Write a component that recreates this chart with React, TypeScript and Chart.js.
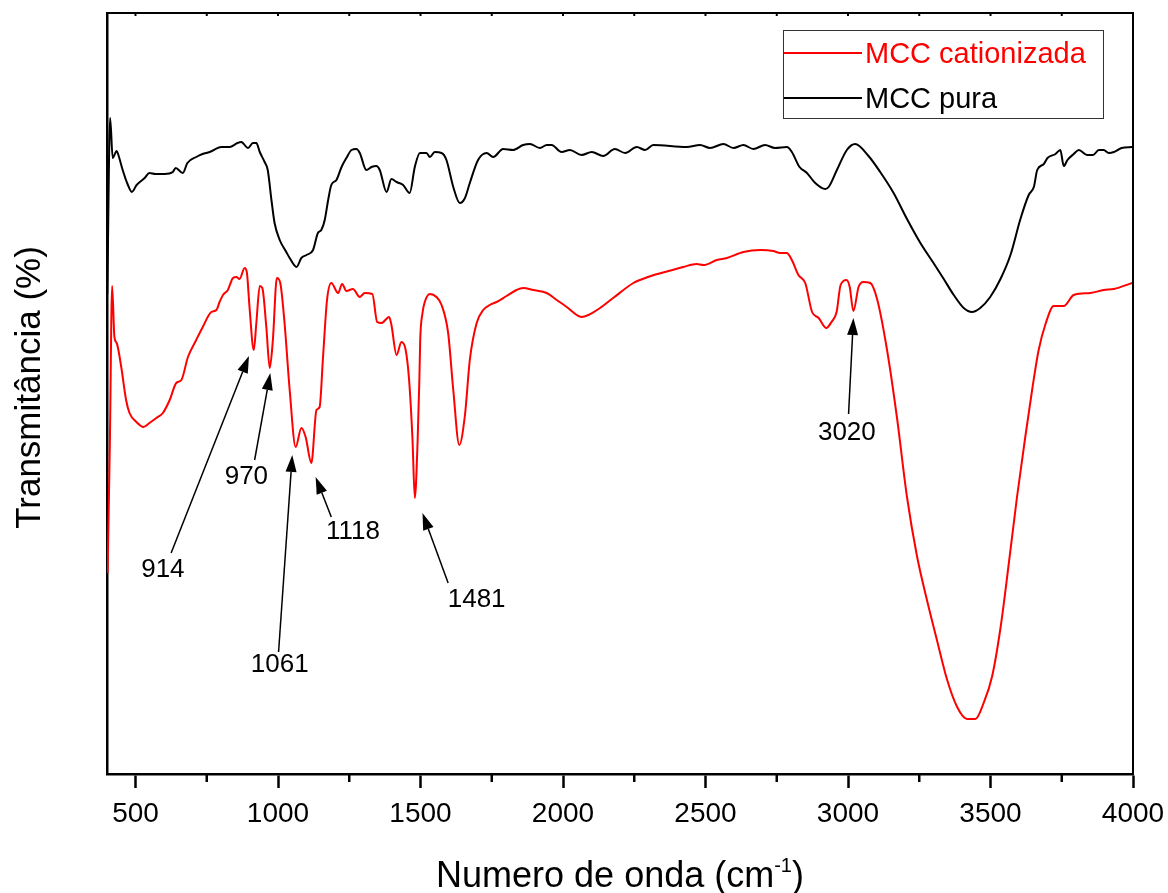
import { useEffect, useRef } from 'react';
import { Chart, registerables } from 'chart.js';

Chart.register(...registerables);

const FONT = "'Liberation Sans', Arial, Helvetica, sans-serif";

// MCC pura (black) — wavenumber (cm-1) and transmittance (arbitrary units)
const wnPura = [401, 411, 420, 434, 440, 455, 472, 487, 504, 532, 549, 570, 602, 631, 641, 666, 682, 713, 735, 760, 801, 830, 858, 871, 895, 912, 924, 936, 953, 964, 977, 988, 1006, 1029, 1041, 1065, 1082, 1100, 1123, 1140, 1152, 1164, 1176, 1187, 1205, 1223, 1240, 1258, 1275, 1287, 1310, 1328, 1345, 1357, 1381, 1398, 1416, 1439, 1462, 1480, 1498, 1521, 1533, 1550, 1574, 1591, 1615, 1638, 1656, 1673, 1702, 1732, 1755, 1790, 1825, 1860, 1884, 1919, 1943, 1960, 1995, 2024, 2065, 2101, 2141, 2182, 2218, 2259, 2288, 2317, 2434, 2481, 2516, 2563, 2598, 2633, 2668, 2709, 2744, 2786, 2803, 2830, 2856, 2885, 2920, 2932, 2961, 2996, 3025, 3072, 3113, 3160, 3207, 3254, 3300, 3336, 3371, 3406, 3435, 3464, 3499, 3535, 3570, 3605, 3634, 3652, 3664, 3687, 3700, 3728, 3745, 3757, 3770, 3792, 3810, 3839, 3860, 3880, 3897, 3915, 3933, 3960, 3997];
const tPura = [480, 656, 616, 623, 619, 604, 590, 582, 589, 596, 601, 600, 600, 602, 606, 601, 611, 617, 620, 622, 627, 627, 631, 632, 626, 631, 631, 622, 612, 604, 574, 551, 534, 522, 516, 507, 516, 519, 524, 541, 544, 554, 574, 589, 594, 607, 616, 624, 625, 621, 604, 607, 608, 604, 582, 595, 592, 589, 581, 607, 621, 621, 617, 622, 621, 614, 587, 571, 576, 591, 614, 621, 617, 625, 624, 629, 630, 626, 629, 629, 622, 624, 619, 622, 618, 625, 621, 627, 624, 629, 627, 629, 626, 630, 626, 629, 625, 629, 626, 627, 622, 607, 601, 591, 585, 587, 604, 624, 630, 618, 602, 581, 555, 531, 511, 495, 479, 466, 462, 466, 477, 495, 519, 555, 579, 587, 604, 610, 616, 620, 624, 608, 614, 620, 624, 619, 619, 624, 624, 621, 622, 626, 627];

// MCC cationizada (red)
const wnCat = [402, 410, 418, 426, 434, 450, 467, 479, 503, 528, 549, 573, 596, 620, 643, 661, 684, 713, 736, 766, 784, 795, 807, 824, 842, 854, 865, 883, 891, 900, 915, 924, 936, 945, 959, 971, 982, 996, 1008, 1023, 1041, 1062, 1082, 1097, 1117, 1135, 1146, 1158, 1172, 1187, 1211, 1225, 1240, 1263, 1287, 1304, 1331, 1348, 1363, 1390, 1398, 1416, 1433, 1448, 1460, 1472, 1480, 1490, 1496, 1499, 1507, 1515, 1533, 1556, 1574, 1597, 1615, 1636, 1656, 1673, 1697, 1720, 1743, 1767, 1802, 1837, 1860, 1896, 1943, 1978, 2013, 2048, 2065, 2089, 2130, 2176, 2247, 2298, 2358, 2422, 2469, 2493, 2540, 2575, 2633, 2692, 2738, 2762, 2785, 2803, 2826, 2850, 2874, 2897, 2924, 2942, 2960, 2974, 2995, 3006, 3019, 3037, 3054, 3078, 3102, 3137, 3172, 3207, 3242, 3277, 3312, 3347, 3383, 3418, 3447, 3476, 3506, 3535, 3564, 3593, 3622, 3646, 3669, 3693, 3722, 3757, 3792, 3851, 3897, 3933, 3997];
const tCat = [201, 330, 488, 437, 431, 407, 374, 361, 352, 347, 351, 356, 361, 374, 391, 394, 417, 434, 447, 462, 464, 472, 479, 484, 496, 497, 495, 506, 501, 467, 424, 451, 488, 486, 447, 406, 434, 496, 491, 451, 384, 327, 346, 337, 311, 364, 367, 417, 474, 491, 481, 490, 483, 485, 477, 481, 480, 452, 451, 457, 449, 419, 432, 424, 394, 334, 276, 334, 394, 434, 461, 472, 480, 477, 469, 441, 384, 329, 359, 414, 451, 464, 469, 472, 478, 484, 486, 484, 481, 474, 467, 459, 457, 459, 466, 476, 491, 497, 502, 507, 510, 509, 514, 516, 522, 524, 523, 521, 521, 514, 499, 491, 462, 456, 446, 452, 462, 489, 494, 487, 463, 487, 492, 491, 475, 424, 356, 277, 218, 174, 134, 95, 67, 55, 55, 71, 98, 146, 210, 277, 337, 384, 424, 450, 468, 468, 479, 481, 484, 485, 491];

// Axis ticks
const xMajorTicks = [500, 1000, 1500, 2000, 2500, 3000, 3500, 4000];
const xMinorTicks = [750, 1250, 1750, 2250, 2750, 3250, 3750];

// Peak annotations (data coordinates)
const peakLabels = ['914', '970', '1061', '1118', '1481', '3020'];
const labelX = [596, 889, 1006, 1263, 1697, 2996];
const labelY = [204, 297, 109, 242, 174, 341];
const arrowFromX = [625, 918, 1002, 1187, 1597, 3002];
const arrowFromY = [221, 314, 122, 257, 191, 360];
const arrowToX = [898, 973, 1050, 1132, 1507, 3019];
const arrowToY = [418, 401, 319, 297, 261, 456];

const seriesNames = ['MCC cationizada', 'MCC pura'];
const seriesColors = ['#ff0000', '#000000'];

export default function App() {
  const ref = useRef<HTMLCanvasElement>(null);

  useEffect(() => {
    document.body.style.margin = '0';
    const canvas = ref.current;
    if (!canvas) return;

    const overlay = {
      id: 'overlay',
      afterDraw(chart: any) {
        const { ctx, chartArea } = chart;
        const { left, right, top, bottom } = chartArea;
        const xs = chart.scales.x;
        const ys = chart.scales.y;
        ctx.save();

        // frame top / right
        ctx.strokeStyle = '#000';
        ctx.lineWidth = 2;
        ctx.beginPath();
        ctx.moveTo(left, top);
        ctx.lineTo(right, top);
        ctx.lineTo(right, bottom);
        ctx.stroke();

        // top inward ticks and bottom minor ticks
        ctx.beginPath();
        for (const v of [...xMajorTicks, ...xMinorTicks]) {
          if (v >= 4000) continue;
          const px = xs.getPixelForValue(v);
          ctx.moveTo(px, top);
          ctx.lineTo(px, top + 3);
        }
        ctx.stroke();
        ctx.lineWidth = 2.5;
        ctx.beginPath();
        for (const v of xMinorTicks) {
          const px = xs.getPixelForValue(v);
          ctx.moveTo(px, bottom);
          ctx.lineTo(px, bottom + 8);
        }
        ctx.stroke();

        // annotations
        ctx.fillStyle = '#000';
        ctx.strokeStyle = '#000';
        ctx.lineWidth = 1.5;
        ctx.font = `26px ${FONT}`;
        ctx.textAlign = 'center';
        ctx.textBaseline = 'middle';
        for (let i = 0; i < peakLabels.length; i++) {
          const x1 = xs.getPixelForValue(arrowFromX[i]);
          const y1 = ys.getPixelForValue(arrowFromY[i]);
          const x2 = xs.getPixelForValue(arrowToX[i]);
          const y2 = ys.getPixelForValue(arrowToY[i]);
          const ang = Math.atan2(y2 - y1, x2 - x1);
          const headLen = 17;
          const headHalf = 5.5;
          const bx = x2 - headLen * Math.cos(ang);
          const by = y2 - headLen * Math.sin(ang);
          ctx.beginPath();
          ctx.moveTo(x1, y1);
          ctx.lineTo(bx, by);
          ctx.stroke();
          ctx.beginPath();
          ctx.moveTo(x2, y2);
          ctx.lineTo(bx + headHalf * Math.sin(ang), by - headHalf * Math.cos(ang));
          ctx.lineTo(bx - headHalf * Math.sin(ang), by + headHalf * Math.cos(ang));
          ctx.closePath();
          ctx.fill();
          ctx.fillText(peakLabels[i], xs.getPixelForValue(labelX[i]), ys.getPixelForValue(labelY[i]));
        }

        // legend
        const lx = right - 350;
        const ly = top + 17;
        ctx.strokeStyle = '#333';
        ctx.lineWidth = 1;
        ctx.strokeRect(lx + 0.5, ly + 0.5, 320, 88);
        ctx.textAlign = 'left';
        ctx.font = `29px ${FONT}`;
        const rowsY = [ly + 23, ly + 68];
        for (let i = 0; i < seriesNames.length; i++) {
          ctx.strokeStyle = seriesColors[i];
          ctx.lineWidth = 2;
          ctx.beginPath();
          ctx.moveTo(lx + 1, rowsY[i]);
          ctx.lineTo(lx + 79, rowsY[i]);
          ctx.stroke();
          ctx.fillStyle = seriesColors[i];
          ctx.fillText(seriesNames[i], lx + 82, rowsY[i] + 2);
        }

        // x title with superscript
        ctx.fillStyle = '#000';
        ctx.textBaseline = 'alphabetic';
        const mainTxt = 'Numero de onda (cm';
        const supTxt = '-1';
        const tailTxt = ')';
        ctx.font = `36px ${FONT}`;
        const w1 = ctx.measureText(mainTxt).width;
        const w3 = ctx.measureText(tailTxt).width;
        ctx.font = `20px ${FONT}`;
        const w2 = ctx.measureText(supTxt).width;
        const total = w1 + w2 + w3;
        let tx = (left + right) / 2 - total / 2;
        const base = bottom + 113;
        ctx.textAlign = 'left';
        ctx.font = `36px ${FONT}`;
        ctx.fillText(mainTxt, tx, base);
        tx += w1;
        ctx.font = `20px ${FONT}`;
        ctx.fillText(supTxt, tx, base - 15);
        tx += w2;
        ctx.font = `36px ${FONT}`;
        ctx.fillText(tailTxt, tx, base);

        // y title
        ctx.save();
        ctx.translate(40, (top + bottom) / 2 - 6);
        ctx.rotate(-Math.PI / 2);
        ctx.textAlign = 'center';
        ctx.font = `35px ${FONT}`;
        ctx.fillText('Transmitância (%)', 0, 0);
        ctx.restore();

        ctx.restore();
      },
    };

    const chart = new Chart(canvas, {
      type: 'line',
      data: {
        datasets: [
          {
            label: seriesNames[0],
            data: wnCat.map((x, i) => ({ x, y: tCat[i] })),
            borderColor: seriesColors[0],
            borderWidth: 2,
            pointRadius: 0,
            cubicInterpolationMode: 'monotone',
            fill: false,
          },
          {
            label: seriesNames[1],
            data: wnPura.map((x, i) => ({ x, y: tPura[i] })),
            borderColor: seriesColors[1],
            borderWidth: 2,
            pointRadius: 0,
            cubicInterpolationMode: 'monotone',
            fill: false,
          },
        ],
      },
      options: {
        animation: false,
        responsive: true,
        maintainAspectRatio: false,
        layout: { padding: { top: 13, right: 35, left: 0, bottom: 0 } },
        plugins: { legend: { display: false }, tooltip: { enabled: false } },
        scales: {
          x: {
            type: 'linear',
            min: 400,
            max: 4000,
            afterBuildTicks: (s: any) => {
              s.ticks = xMajorTicks.map((v) => ({ value: v }));
            },
            afterFit: (s: any) => {
              s.height = 119;
              s.paddingLeft = 0;
              s.paddingRight = 0;
            },
            ticks: {
              autoSkip: false,
              maxRotation: 0,
              color: '#000',
              font: { family: FONT, size: 28 },
              padding: 9,
              callback: (v: any) => String(v),
            },
            grid: {
              drawOnChartArea: false,
              drawTicks: true,
              tickLength: 14,
              tickWidth: 2.5,
              tickColor: '#000',
            },
            border: { display: true, color: '#000', width: 2.5 },
          },
          y: {
            type: 'linear',
            min: 0,
            max: 761,
            ticks: { display: false },
            grid: { drawOnChartArea: false, drawTicks: false },
            border: { display: true, color: '#000', width: 2.5 },
            afterFit: (s: any) => {
              s.width = 107;
            },
          },
        },
      },
      plugins: [overlay],
    } as any);

    return () => chart.destroy();
  }, []);

  return (
    <div style={{ width: 1168, height: 893, position: 'relative' }}>
      <canvas ref={ref} />
    </div>
  );
}
